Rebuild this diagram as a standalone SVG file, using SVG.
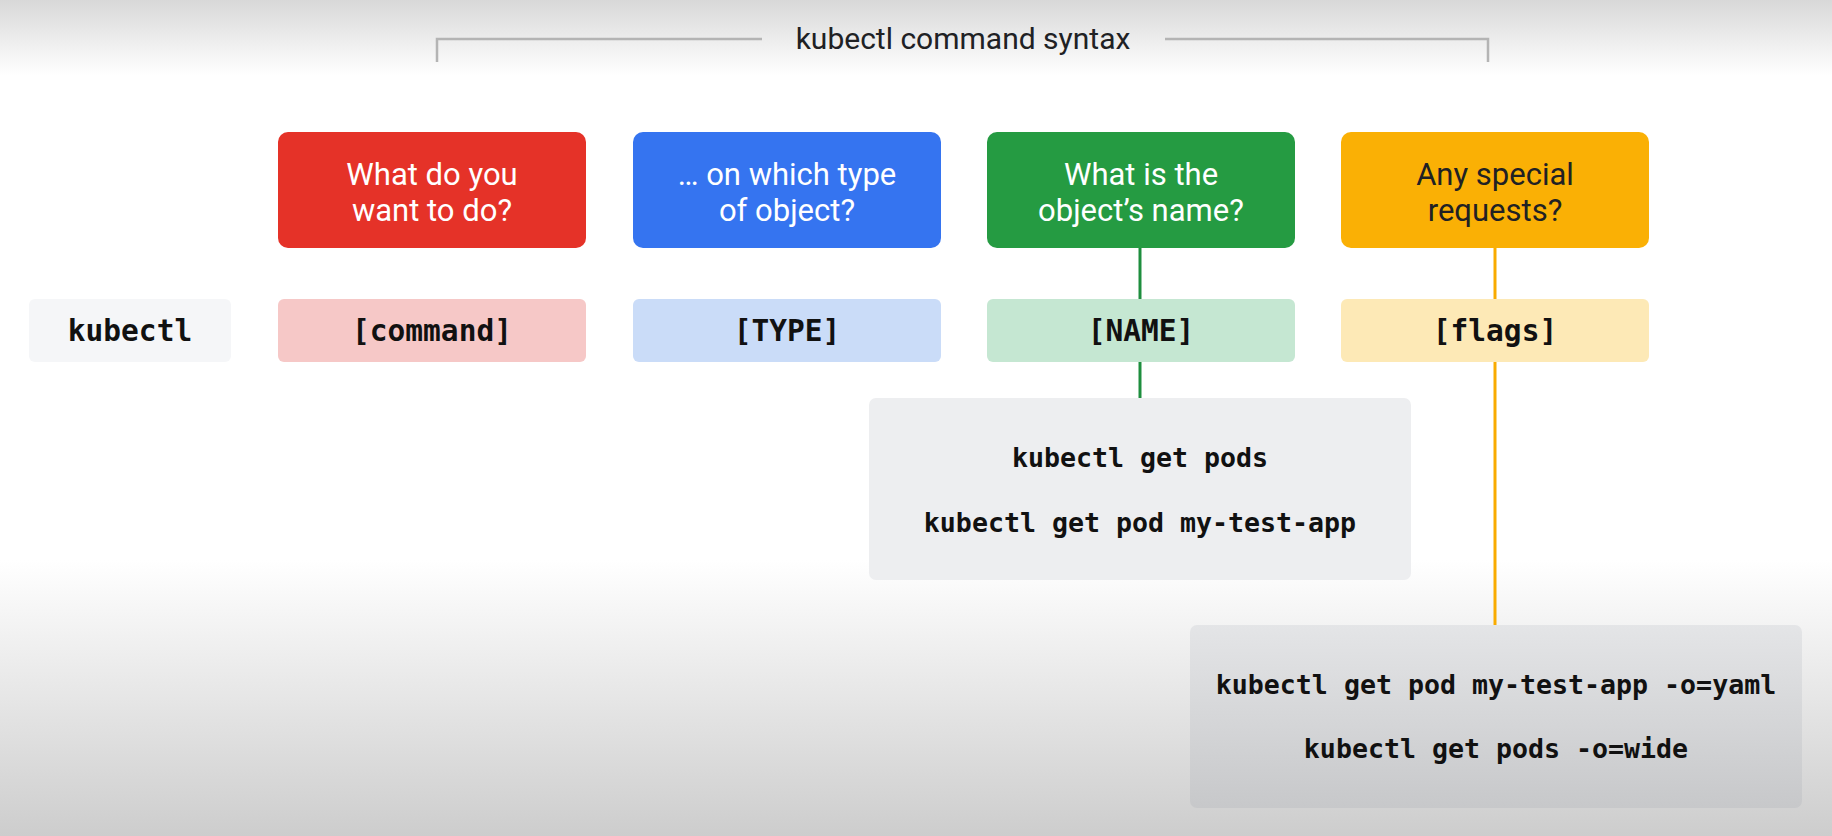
<svg xmlns="http://www.w3.org/2000/svg" width="1832" height="836" viewBox="0 0 1832 836">
  <defs>
    <linearGradient id="bgTop" x1="0" y1="0" x2="0" y2="1">
      <stop offset="0" stop-color="#d8d8d8"/>
      <stop offset="1" stop-color="#ffffff"/>
    </linearGradient>
    <linearGradient id="bgBot" x1="0" y1="0" x2="0" y2="1">
      <stop offset="0" stop-color="#ffffff"/>
      <stop offset="1" stop-color="#cdcdcd"/>
    </linearGradient>
    <linearGradient id="box2" x1="0" y1="0" x2="0" y2="1">
      <stop offset="0" stop-color="#e4e5e7"/>
      <stop offset="1" stop-color="#c7c8ca"/>
    </linearGradient>
    <style>
      .q { font-family: Roboto, "Open Sans", "Liberation Sans", sans-serif; font-size: 31px; text-anchor: middle; }
      .qw { fill: #ffffff; }
      .qd { fill: #202124; }
      .code { font-family: "DejaVu Sans Mono", "Liberation Mono", monospace; font-weight: bold; fill: #111111; text-anchor: middle; }
      .lbl { font-size: 29.5px; }
      .ex { font-size: 26.6px; }
      .title { font-family: Roboto, "Open Sans", "Liberation Sans", sans-serif; font-size: 30px; fill: #202124; text-anchor: middle; }
      .br { fill: none; stroke: #b4b4b4; stroke-width: 2.5; }
    </style>
  </defs>

  <!-- background -->
  <rect x="0" y="0" width="1832" height="836" fill="#ffffff"/>
  <rect x="0" y="0" width="1832" height="75" fill="url(#bgTop)"/>
  <rect x="0" y="560" width="1832" height="276" fill="url(#bgBot)"/>

  <!-- title bracket -->
  <g id="title">
    <path class="br" d="M437 62 V39 H762"/>
    <path class="br" d="M1165 39 H1488 V62"/>
    <text class="title" x="963" y="49">kubectl command syntax</text>
  </g>

  <!-- connectors -->
  <g id="connectors">
    <line x1="1140" y1="247" x2="1140" y2="299" stroke="#1e8e3e" stroke-width="3"/>
    <line x1="1140" y1="362" x2="1140" y2="398" stroke="#1e8e3e" stroke-width="3"/>
    <line x1="1495" y1="247" x2="1495" y2="299" stroke="#f9ab00" stroke-width="3"/>
    <line x1="1495" y1="362" x2="1495" y2="625" stroke="#f9ab00" stroke-width="3"/>
  </g>

  <!-- question boxes -->
  <g id="q-command">
    <rect x="278" y="132" width="308" height="116" rx="10" fill="#e53228"/>
    <text class="q qw" x="432" y="185">What do you</text>
    <text class="q qw" x="432" y="221">want to do?</text>
  </g>
  <g id="q-type">
    <rect x="633" y="132" width="308" height="116" rx="10" fill="#3574f0"/>
    <text class="q qw" x="787" y="185">… on which type</text>
    <text class="q qw" x="787" y="221">of object?</text>
  </g>
  <g id="q-name">
    <rect x="987" y="132" width="308" height="116" rx="10" fill="#259b42"/>
    <text class="q qw" x="1141" y="185">What is the</text>
    <text class="q qw" x="1141" y="221">object’s name?</text>
  </g>
  <g id="q-flags">
    <rect x="1341" y="132" width="308" height="116" rx="10" fill="#fab005"/>
    <text class="q qd" x="1495" y="185">Any special</text>
    <text class="q qd" x="1495" y="221">requests?</text>
  </g>

  <!-- syntax row -->
  <g id="kubectl">
    <rect x="29" y="299" width="202" height="63" rx="6" fill="#f5f6f8"/>
    <text class="code lbl" x="130" y="341">kubectl</text>
  </g>
  <g id="command">
    <rect x="278" y="299" width="308" height="63" rx="6" fill="#f6c8c7"/>
    <text class="code lbl" x="432" y="341">[command]</text>
  </g>
  <g id="type">
    <rect x="633" y="299" width="308" height="63" rx="6" fill="#cadcf8"/>
    <text class="code lbl" x="787" y="341">[TYPE]</text>
  </g>
  <g id="name">
    <rect x="987" y="299" width="308" height="63" rx="6" fill="#c5e7d2"/>
    <text class="code lbl" x="1141" y="341">[NAME]</text>
  </g>
  <g id="flags">
    <rect x="1341" y="299" width="308" height="63" rx="6" fill="#fde9b6"/>
    <text class="code lbl" x="1495" y="341">[flags]</text>
  </g>

  <!-- examples -->
  <g id="examples-name">
    <rect x="869" y="398" width="542" height="182" rx="7" fill="#edeef0"/>
    <text class="code ex" x="1140" y="467">kubectl get pods</text>
    <text class="code ex" x="1140" y="532">kubectl get pod my-test-app</text>
  </g>
  <g id="examples-flags">
    <rect x="1190" y="625" width="612" height="183" rx="7" fill="url(#box2)"/>
    <text class="code ex" x="1496" y="694">kubectl get pod my-test-app -o=yaml</text>
    <text class="code ex" x="1496" y="758">kubectl get pods -o=wide</text>
  </g>
</svg>
